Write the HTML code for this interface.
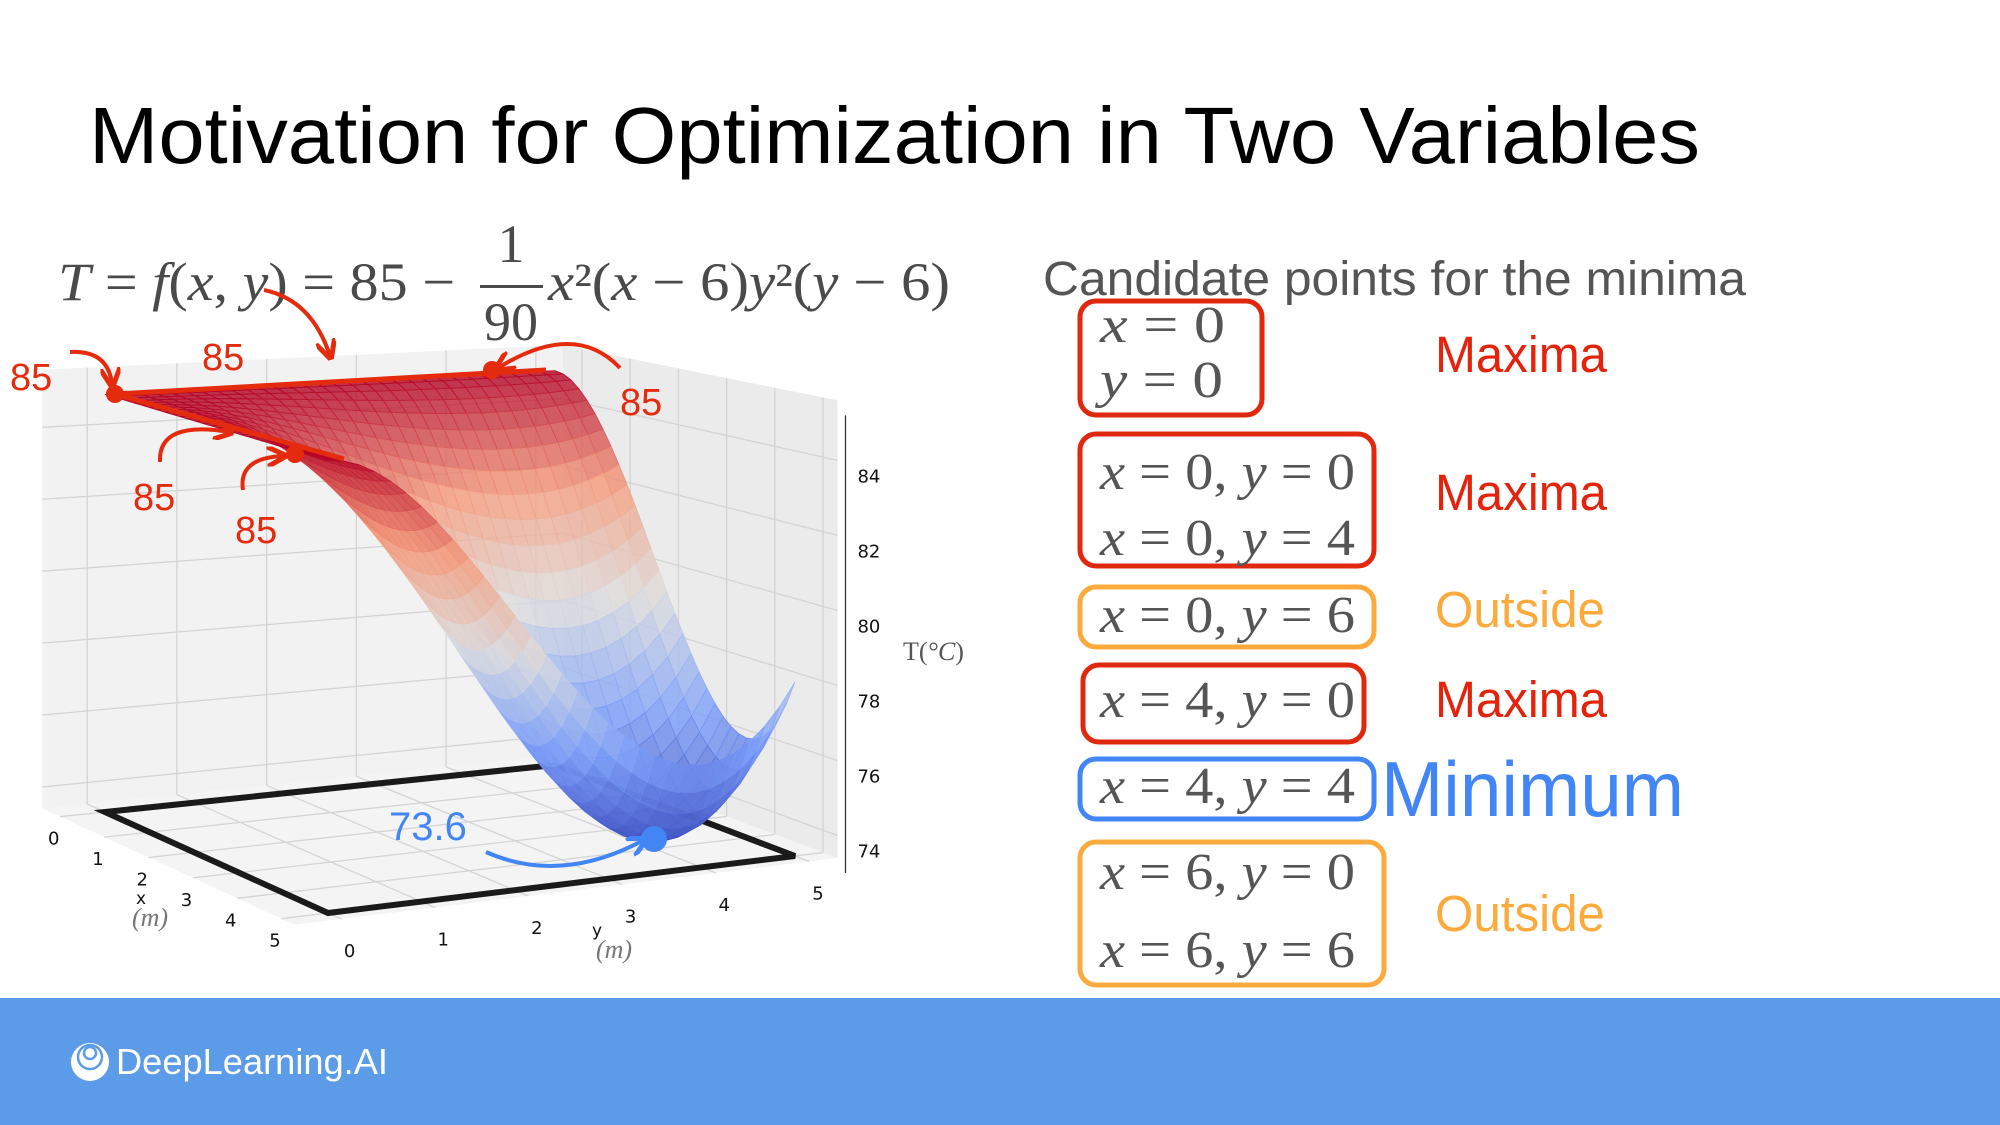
<!DOCTYPE html>
<html><head><meta charset="utf-8">
<style>
html,body{margin:0;padding:0;background:#fff;}
svg{display:block;}
.sans{font-family:"Liberation Sans",sans-serif;}
.serif{font-family:"Liberation Serif",serif;}
.i{font-style:italic;}
</style></head>
<body>
<svg id="slide" width="2000" height="1125" viewBox="0 0 2000 1125" xmlns="http://www.w3.org/2000/svg">
<defs>
<marker id="ahR" viewBox="0 0 10 10" refX="8" refY="5" markerWidth="5" markerHeight="5" orient="auto"><path d="M0,0 L10,5 L0,10" fill="none" stroke="#e52b0d" stroke-width="2.5"/></marker>
<marker id="ahB" viewBox="0 0 10 10" refX="8" refY="5" markerWidth="5" markerHeight="5" orient="auto"><path d="M0,0 L10,5 L0,10" fill="none" stroke="#4285f4" stroke-width="2.5"/></marker>
</defs>
<rect x="0" y="0" width="2000" height="1125" fill="#fff"/>
<text class="sans" x="89" y="163" font-size="80" fill="#000" textLength="1611" lengthAdjust="spacingAndGlyphs">Motivation for Optimization in Two Variables</text>

<g class="serif" fill="#4a4a4a">
<text x="58" y="300" font-size="54" textLength="397" lengthAdjust="spacingAndGlyphs"><tspan class="i">T</tspan> = <tspan class="i">f</tspan>(<tspan class="i">x</tspan>, <tspan class="i">y</tspan>) = 85 −</text>
<text x="511" y="262" font-size="54" text-anchor="middle">1</text>
<rect x="480" y="285" width="63" height="3" fill="#4a4a4a"/>
<text x="511" y="340" font-size="54" text-anchor="middle">90</text>
<text x="548" y="300" font-size="54" textLength="402" lengthAdjust="spacingAndGlyphs"><tspan class="i">x</tspan>²(<tspan class="i">x</tspan> − 6)<tspan class="i">y</tspan>²(<tspan class="i">y</tspan> − 6)</text>
</g>

<g id="chart"></g>

<text class="sans" x="1043" y="295" font-size="48" fill="#555" textLength="703" lengthAdjust="spacingAndGlyphs">Candidate points for the minima</text>

<g class="serif" font-size="52" fill="#555">
<rect x="1080" y="301" width="182" height="114" rx="16" fill="none" stroke="#e0280f" stroke-width="5"/>
<text x="1100" y="342" textLength="125" lengthAdjust="spacingAndGlyphs"><tspan class="i">x</tspan> = 0</text>
<text x="1100" y="397" textLength="123" lengthAdjust="spacingAndGlyphs"><tspan class="i">y</tspan> = 0</text>

<rect x="1080" y="434" width="294" height="132" rx="16" fill="none" stroke="#e0280f" stroke-width="5"/>
<text x="1100" y="489" textLength="255" lengthAdjust="spacingAndGlyphs"><tspan class="i">x</tspan> = 0, <tspan class="i">y</tspan> = 0</text>
<text x="1100" y="555" textLength="255" lengthAdjust="spacingAndGlyphs"><tspan class="i">x</tspan> = 0, <tspan class="i">y</tspan> = 4</text>

<rect x="1080" y="587" width="294" height="60" rx="16" fill="none" stroke="#fbab3d" stroke-width="5"/>
<text x="1100" y="632" textLength="255" lengthAdjust="spacingAndGlyphs"><tspan class="i">x</tspan> = 0, <tspan class="i">y</tspan> = 6</text>

<rect x="1083" y="665" width="281" height="77" rx="16" fill="none" stroke="#e0280f" stroke-width="5"/>
<text x="1100" y="717" textLength="255" lengthAdjust="spacingAndGlyphs"><tspan class="i">x</tspan> = 4, <tspan class="i">y</tspan> = 0</text>

<rect x="1080" y="759" width="294" height="60" rx="16" fill="none" stroke="#4285f4" stroke-width="5"/>
<text x="1100" y="803" textLength="255" lengthAdjust="spacingAndGlyphs"><tspan class="i">x</tspan> = 4, <tspan class="i">y</tspan> = 4</text>

<rect x="1080" y="842" width="304" height="143" rx="16" fill="none" stroke="#fbab3d" stroke-width="5"/>
<text x="1100" y="889" textLength="255" lengthAdjust="spacingAndGlyphs"><tspan class="i">x</tspan> = 6, <tspan class="i">y</tspan> = 0</text>
<text x="1100" y="967" textLength="255" lengthAdjust="spacingAndGlyphs"><tspan class="i">x</tspan> = 6, <tspan class="i">y</tspan> = 6</text>
</g>

<g class="sans">
<text x="1435" y="372" font-size="51" fill="#e3230b" textLength="172" lengthAdjust="spacingAndGlyphs">Maxima</text>
<text x="1435" y="510" font-size="51" fill="#e3230b" textLength="172" lengthAdjust="spacingAndGlyphs">Maxima</text>
<text x="1435" y="627" font-size="51" fill="#fbab3d" textLength="170" lengthAdjust="spacingAndGlyphs">Outside</text>
<text x="1435" y="717" font-size="51" fill="#e3230b" textLength="172" lengthAdjust="spacingAndGlyphs">Maxima</text>
<text x="1381" y="816" font-size="78" fill="#4285f4" textLength="303" lengthAdjust="spacingAndGlyphs">Minimum</text>
<text x="1435" y="931" font-size="51" fill="#fbab3d" textLength="170" lengthAdjust="spacingAndGlyphs">Outside</text>
</g>

<rect x="0" y="998" width="2000" height="127" fill="#5b9be8"/>
<g>
<circle cx="90" cy="1062" r="19" fill="#fff"/>
<circle cx="90" cy="1057" r="12" fill="none" stroke="#5b9be8" stroke-width="2.5"/>
<circle cx="90" cy="1053" r="6" fill="none" stroke="#5b9be8" stroke-width="2.5"/>
</g>
<text class="sans" x="116" y="1074" font-size="36" fill="#fff" textLength="272" lengthAdjust="spacingAndGlyphs">DeepLearning.AI</text>
</svg>

<script>
// ---- chart data ----
const zTicks = [74, 76, 78, 80, 82, 84];
const xTicks = [0, 1, 2, 3, 4, 5];
const yTicks = [0, 1, 2, 3, 4, 5];
const baseTemp = [85];
const coef = [90];
const gridN = [30];
const domainMax = [5];

const NS = 'http://www.w3.org/2000/svg';
const chart = document.getElementById('chart');
const ZF = 73.4;
const A=[105,812],B=[328,913],C=[795,856],D=[555,765];
const kA=36,kB=39,kC=37.4,kD=34;
function f(x,y){return baseTemp[0]-x*x*(x-6)*y*y*(y-6)/coef[0];}
function proj(x,y,z){
  const u=x/domainMax[0], v=y/domainMax[0];
  const a=(1-u)*(1-v), b=u*(1-v), c=u*v, d=(1-u)*v;
  const px=a*A[0]+b*B[0]+c*C[0]+d*D[0];
  const py=a*A[1]+b*B[1]+c*C[1]+d*D[1];
  const k=a*kA+b*kB+c*kC+d*kD;
  return [px, py-k*(z-ZF)];
}
function mk(tag,attrs){const e=document.createElementNS(NS,tag);for(const k in attrs)e.setAttribute(k,attrs[k]);return e;}
function pts(arr){return arr.map(p=>p[0].toFixed(1)+','+p[1].toFixed(1)).join(' ');}

const XL=-0.4, XH=5.3, YL=-0.5, YH=5.3, ZH=85.6;
const wallL = mk('polygon',{points:pts([proj(XL,YL,ZF),proj(XL,YH,ZF),proj(XL,YH,ZH),proj(XL,YL,ZH)]),fill:'#f2f2f2',stroke:'none'});


chart.appendChild(wallL);
const wallR = mk('polygon',{points:pts([proj(XL,YH,ZF),proj(XH,YH,ZF),proj(XH,YH,ZH),proj(XL,YH,ZH)]),fill:'#ebebeb',stroke:'none'});


chart.appendChild(wallR);
const floor = mk('polygon',{points:pts([proj(XL,YL,ZF),proj(XH,YL,ZF),proj(XH,YH,ZF),proj(XL,YH,ZF)]),fill:'#f4f4f4',stroke:'none'});


chart.appendChild(floor);

const gridG = mk('g',{stroke:'#d4d4d4','stroke-width':1.3,fill:'none'});


chart.appendChild(gridG);
function line(p,q){gridG.appendChild(mk('line',{x1:p[0],y1:p[1],x2:q[0],y2:q[1]}));}
yTicks.forEach(y=>{line(proj(XL,y,ZF),proj(XL,y,ZH));line(proj(XL,y,ZF),proj(XH,y,ZF));});
xTicks.forEach(x=>{line(proj(x,YH,ZF),proj(x,YH,ZH));line(proj(x,YL,ZF),proj(x,YH,ZF));});
zTicks.forEach(z=>{line(proj(XL,YL,z),proj(XL,YH,z));line(proj(XL,YH,z),proj(XH,YH,z));});

const rect = mk('polygon',{points:pts([proj(0,0,ZF),proj(5,0,ZF),proj(5,5,ZF),proj(0,5,ZF)]),fill:'none',stroke:'#1a1a1a','stroke-width':6});


chart.appendChild(rect);

const stops=[[0,[59,76,192]],[0.25,[124,159,249]],[0.5,[221,221,221]],[0.75,[244,154,123]],[1,[180,4,38]]];
function cmap(t){t=Math.max(0,Math.min(1,t));for(let i=1;i<stops.length;i++){if(t<=stops[i][0]){const a=stops[i-1],b=stops[i];const s=(t-a[0])/(b[0]-a[0]);return 'rgb('+a[1].map((v,j)=>Math.round(v+(b[1][j]-v)*s)).join(',')+')';}}return 'rgb(180,4,38)';}
const N=gridN[0], M=domainMax[0];
const quads=[];
for(let i=0;i<N;i++)for(let j=0;j<N;j++){
  const x0=i*M/N,x1=(i+1)*M/N,y0=j*M/N,y1=(j+1)*M/N;
  const zs=[f(x0,y0),f(x1,y0),f(x1,y1),f(x0,y1)];
  const zm=(zs[0]+zs[1]+zs[2]+zs[3])/4;
  const P=[proj(x0,y0,zs[0]),proj(x1,y0,zs[1]),proj(x1,y1,zs[2]),proj(x0,y1,zs[3])];
  const depth=proj((x0+x1)/2,(y0+y1)/2,ZF)[1];
  quads.push({P,zm,depth});
}
quads.sort((a,b)=>a.depth-b.depth);
const surf = mk('g',{'fill-opacity':0.82});


chart.appendChild(surf);
quads.forEach(q=>{
  const col=cmap((q.zm-73.6)/(85-73.6));
  const p=mk('polygon',{points:pts(q.P),fill:col,stroke:col,'stroke-width':0.8});
  
  
  surf.appendChild(p);
});

const zTop=proj(XH,YH,ZH), zBot=proj(XH,YH,ZF);
const zAxis=mk('line',{x1:zBot[0]+8,y1:zBot[1]+15,x2:zTop[0]+8,y2:zTop[1]+15,stroke:'#333','stroke-width':1.3});


chart.appendChild(zAxis);
zTicks.forEach(z=>{
  const p=proj(XH,YH,z);
  const t=mk('text',{x:p[0]+20,y:p[1]+22,'font-size':18,fill:'#111','font-family':'DejaVu Sans, sans-serif'});
  t.textContent=z;
  
  
  chart.appendChild(t);
});
xTicks.forEach(x=>{
  const p=proj(x,YL,ZF);
  const t=mk('text',{x:p[0]-12,y:p[1]+28,'font-size':18,fill:'#111','font-family':'DejaVu Sans, sans-serif'});
  t.textContent=x;
  
  
  chart.appendChild(t);
});
yTicks.forEach(y=>{
  const p=proj(XH+0.1,y,ZF);
  const t=mk('text',{x:p[0]-2,y:p[1]+36,'font-size':18,fill:'#111','font-family':'DejaVu Sans, sans-serif'});
  t.textContent=y;
  
  
  chart.appendChild(t);
});

const ann = `
<text x="136" y="904" font-size="17" fill="#111" font-family="DejaVu Sans, sans-serif">x</text>
<text x="132" y="926" font-size="26" fill="#777" font-style="italic" font-family="Liberation Serif, serif">(m)</text>
<text x="592" y="936" font-size="17" fill="#111" font-family="DejaVu Sans, sans-serif">y</text>
<text x="596" y="958" font-size="26" fill="#777" font-style="italic" font-family="Liberation Serif, serif">(m)</text>
<text x="903" y="660" font-size="26" fill="#555" font-family="Liberation Serif, serif">T(<tspan font-style="italic">°C</tspan>)</text>
<line x1="115" y1="394" x2="546" y2="370" stroke="#e52b0d" stroke-width="5"/>
<line x1="115" y1="394" x2="344" y2="459" stroke="#e52b0d" stroke-width="5"/>
<circle cx="115" cy="394" r="9" fill="#e52b0d"/>
<circle cx="492" cy="370" r="9" fill="#e52b0d"/>
<circle cx="295" cy="454" r="9" fill="#e52b0d"/>
<circle cx="654" cy="839" r="13" fill="#4285f4"/>
<g fill="none" stroke="#e52b0d" stroke-width="4">
<path d="M70,352 Q108,350 112,384" marker-end="url(#ahR)"/>
<path d="M264,290 Q312,300 330,356" marker-end="url(#ahR)"/>
<path d="M620,368 Q575,320 498,368" marker-end="url(#ahR)"/>
<path d="M160,462 Q158,420 230,432" marker-end="url(#ahR)"/>
<path d="M243,490 Q238,458 283,456" marker-end="url(#ahR)"/>
</g>
<path d="M486,852 Q560,885 644,840" fill="none" stroke="#4285f4" stroke-width="4" marker-end="url(#ahB)"/>
<g font-family="Liberation Sans, sans-serif" font-size="38" fill="#e52b0d">
<text x="10" y="390">85</text>
<text x="202" y="370">85</text>
<text x="620" y="415">85</text>
<text x="133" y="510">85</text>
<text x="235" y="543">85</text>
</g>
<text x="389" y="840" font-family="Liberation Sans, sans-serif" font-size="40" fill="#4285f4">73.6</text>`;
const tmp=document.createElementNS(NS,'g');
tmp.innerHTML=ann;


chart.appendChild(tmp);
</script>
</body></html>
